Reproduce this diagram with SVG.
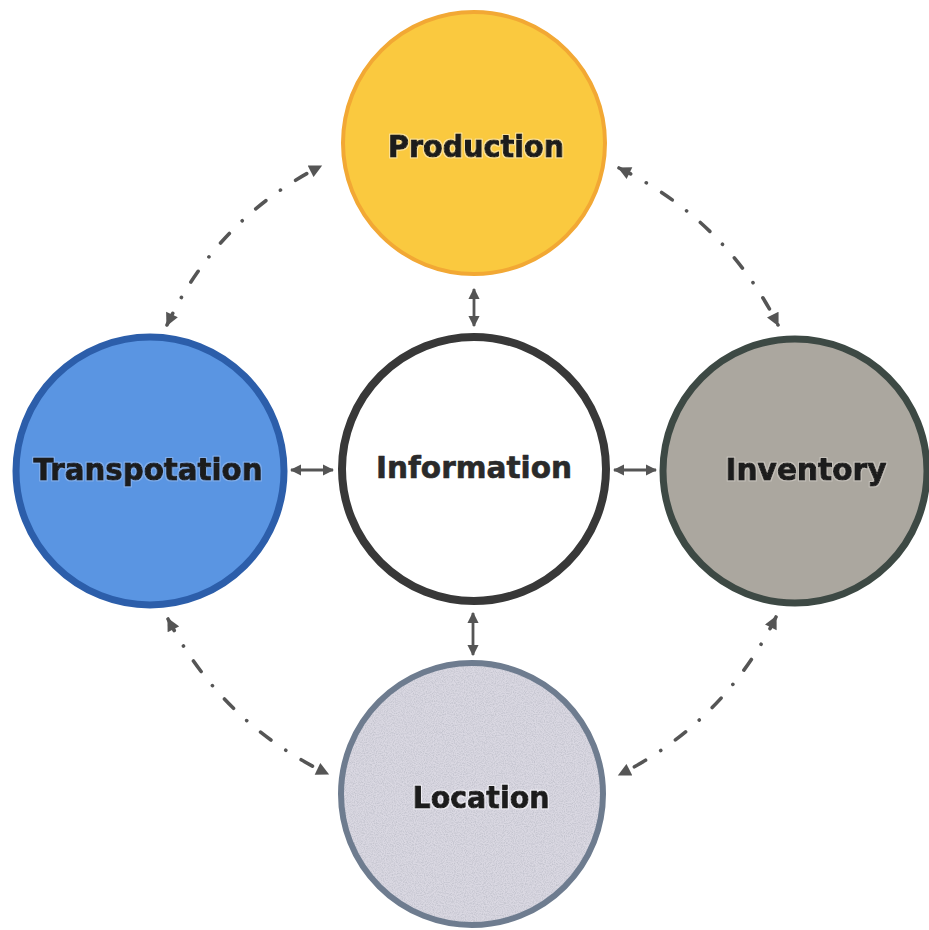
<svg xmlns="http://www.w3.org/2000/svg" width="929" height="930" viewBox="0 0 929 930">
<style>
.lbl{font-family:"DejaVu Sans","Verdana",sans-serif;font-weight:bold;font-size:30px;text-anchor:middle;fill:#1c1c1c;stroke:#1c1c1c;stroke-width:1.1px;stroke-linejoin:round}
.solid{fill:none;stroke:#555;stroke-width:2.8}
.dd{fill:none;stroke:#555;stroke-width:3.6;stroke-linecap:round;stroke-dasharray:13 18 0.1 18}
</style>
<defs>
<marker id="ah" viewBox="0 0 10 10" refX="9" refY="5" markerWidth="4" markerHeight="4" orient="auto-start-reverse" markerUnits="strokeWidth">
<path d="M0,0 L10,5 L0,10 z" fill="#555"/>
</marker>
<marker id="ah2" viewBox="0 0 10 10" refX="9" refY="5" markerWidth="4" markerHeight="3.6" orient="auto-start-reverse" markerUnits="strokeWidth">
<path d="M0,0 L10,5 L0,10 z" fill="#555"/>
</marker>
<filter id="speck" x="0" y="0" width="1" height="1">
<feTurbulence type="fractalNoise" baseFrequency="0.9" numOctaves="2" seed="3" result="n"/>
<feColorMatrix in="n" type="matrix" values="0 0 0 0 0.55  0 0 0 0 0.55  0 0 0 0 0.62  0 0 0 -2.2 1.4" result="c"/>
<feComposite in="c" in2="SourceGraphic" operator="in"/>
</filter>
<filter id="haloY" x="-10%" y="-30%" width="120%" height="160%">
<feMorphology in="SourceAlpha" operator="dilate" radius="1.2" result="d"/>
<feFlood flood-color="#FCE29A"/><feComposite in2="d" operator="in" result="h"/>
<feMerge><feMergeNode in="h"/><feMergeNode in="SourceGraphic"/></feMerge>
</filter>
<filter id="haloB" x="-10%" y="-30%" width="120%" height="160%">
<feMorphology in="SourceAlpha" operator="dilate" radius="1.2" result="d"/>
<feFlood flood-color="#82AEEA"/><feComposite in2="d" operator="in" result="h"/>
<feMerge><feMergeNode in="h"/><feMergeNode in="SourceGraphic"/></feMerge>
</filter>
<filter id="haloG" x="-10%" y="-30%" width="120%" height="160%">
<feMorphology in="SourceAlpha" operator="dilate" radius="1.2" result="d"/>
<feFlood flood-color="#C4C0B9"/><feComposite in2="d" operator="in" result="h"/>
<feMerge><feMergeNode in="h"/><feMergeNode in="SourceGraphic"/></feMerge>
</filter>
<filter id="haloL" x="-10%" y="-30%" width="120%" height="160%">
<feMorphology in="SourceAlpha" operator="dilate" radius="1.2" result="d"/>
<feFlood flood-color="#EDECF2"/><feComposite in2="d" operator="in" result="h"/>
<feMerge><feMergeNode in="h"/><feMergeNode in="SourceGraphic"/></feMerge>
</filter>
</defs>
<rect width="929" height="930" fill="#ffffff"/>

<g id="connectors">
<line class="solid" x1="474" y1="289" x2="474" y2="326" marker-start="url(#ah)" marker-end="url(#ah)"/>
<line class="solid" x1="473" y1="613" x2="473" y2="655" marker-start="url(#ah)" marker-end="url(#ah)"/>
<line class="solid" x1="291" y1="470" x2="333" y2="470" marker-start="url(#ah)" marker-end="url(#ah)"/>
<line class="solid" x1="614" y1="470" x2="656" y2="470" marker-start="url(#ah)" marker-end="url(#ah)"/>
<path class="dd" d="M167,325 Q217,219 321,166" marker-start="url(#ah2)" marker-end="url(#ah2)"/>
<path class="dd" d="M619,168 Q725,220 778,325" marker-start="url(#ah2)" marker-end="url(#ah2)"/>
<path class="dd" d="M168,619 Q222,723 328,774" marker-start="url(#ah2)" marker-end="url(#ah2)"/>
<path class="dd" d="M776,617 Q724,722 619,775" marker-start="url(#ah2)" marker-end="url(#ah2)"/>
</g>

<g id="production">
<circle cx="474" cy="143" r="131" fill="#FAC93F" stroke="#F2A834" stroke-width="4"/>
<text class="lbl" x="476" y="157" textLength="176" lengthAdjust="spacingAndGlyphs" filter="url(#haloY)">Production</text>
</g>

<g id="transportation">
<circle cx="150" cy="471" r="134" fill="#5A95E2" stroke="#2C5EAA" stroke-width="7"/>
<text class="lbl" x="148" y="480" textLength="229" lengthAdjust="spacingAndGlyphs" filter="url(#haloB)">Transpotation</text>
</g>

<g id="information">
<circle cx="474" cy="469" r="132" fill="#ffffff" stroke="#383838" stroke-width="8"/>
<text class="lbl" x="474" y="478" textLength="196" lengthAdjust="spacingAndGlyphs" style="fill:#2a2a2a;stroke:#2a2a2a;stroke-width:0.6px">Information</text>
</g>

<g id="inventory">
<circle cx="795" cy="471" r="132" fill="#ABA79F" stroke="#3D4944" stroke-width="7"/>
<text class="lbl" x="806" y="480" textLength="161" lengthAdjust="spacingAndGlyphs" filter="url(#haloG)">Inventory</text>
</g>

<g id="location">
<circle cx="472" cy="794" r="131" fill="#DAD8E2"/>
<circle cx="472" cy="794" r="131" fill="#DAD8E2" filter="url(#speck)"/>
<circle cx="472" cy="794" r="131" fill="none" stroke="#6E7C8F" stroke-width="6"/>
<text class="lbl" x="481" y="808" textLength="137" lengthAdjust="spacingAndGlyphs" filter="url(#haloL)">Location</text>
</g>
</svg>
